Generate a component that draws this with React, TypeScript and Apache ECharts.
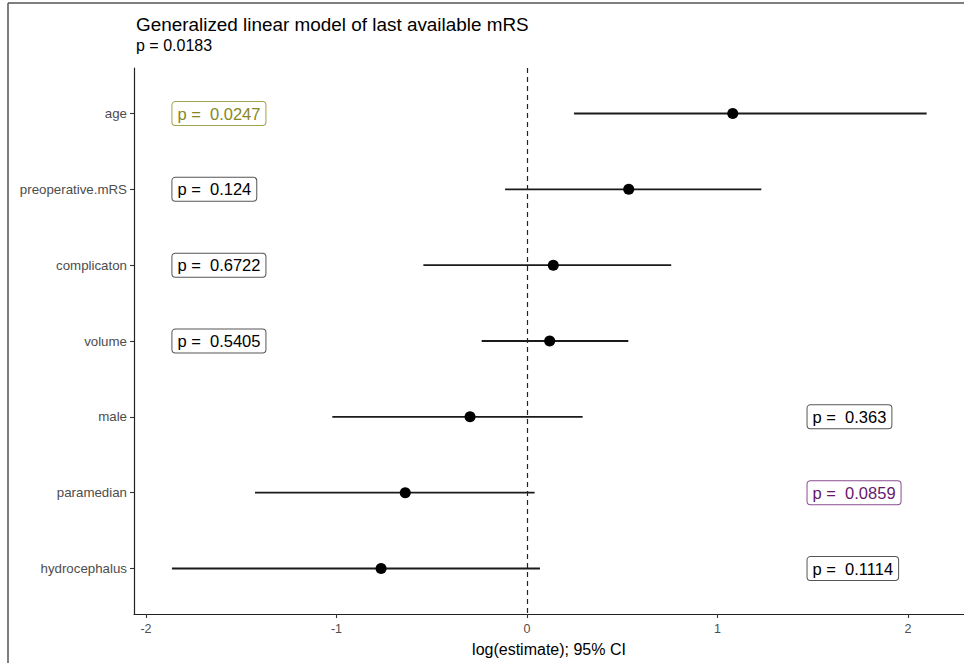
import React, { useEffect, useRef } from "react";
import * as echarts from "echarts";

const categories = ["age", "preoperative.mRS", "complicaton", "volume", "male", "paramedian", "hydrocephalus"];
const estimates = [1.08, 0.534, 0.138, 0.119, -0.299, -0.639, -0.766];
const ciLow = [0.247, -0.115, -0.544, -0.238, -1.022, -1.428, -1.864];
const ciHigh = [2.098, 1.23, 0.757, 0.532, 0.292, 0.04, 0.068];
const pValues = ["0.0247", "0.124", "0.6722", "0.5405", "0.363", "0.0859", "0.1114"];
const labelX = [-1.864, -1.864, -1.864, -1.864, 1.47, 1.47, 1.47];
const labelColors = ["#87871f", "#000000", "#000000", "#000000", "#000000", "#66196e", "#000000"];
const labelBorders = ["#a3a34a", "#555555", "#555555", "#555555", "#555555", "#8a4d90", "#555555"];
const xTicks = [-2, -1, 0, 1, 2];
const titleText = "Generalized linear model of last available mRS";
const subtitleText = "p = 0.0183";
const xAxisTitle = "log(estimate); 95% CI";

const FONT = "'Liberation Sans', Arial, sans-serif";

export default function App() {
  const ref = useRef<HTMLDivElement>(null);
  useEffect(() => {
    if (!ref.current) return;
    const chart = echarts.init(ref.current, null, { renderer: "svg" });
    const idx = categories.map((_, i) => i);
    const option: any = {
      animation: false,
      backgroundColor: "#ffffff",
      textStyle: { fontFamily: FONT },
      grid: { left: 134, right: 0, top: 68, bottom: 49, containLabel: false },
      xAxis: {
        type: "value",
        min: -2.063,
        max: 2.294,
        name: xAxisTitle,
        nameLocation: "middle",
        nameGap: 27,
        nameTextStyle: { fontSize: 16, color: "#000", fontFamily: FONT },
        axisLine: { show: true, onZero: false, lineStyle: { color: "#222", width: 1.2 } },
        axisTick: { show: true, length: 4, customValues: xTicks, lineStyle: { color: "#333", width: 1.1 } },
        axisLabel: { customValues: xTicks, fontSize: 12.5, color: "#4d4d4d", margin: 8, fontFamily: FONT },
        splitLine: { show: false },
      },
      yAxis: {
        type: "value",
        min: -0.6,
        max: 6.6,
        inverse: true,
        axisLine: { show: true, onZero: false, lineStyle: { color: "#222", width: 1.2 } },
        axisTick: { show: true, length: 4, customValues: idx, lineStyle: { color: "#333", width: 1.1 } },
        axisLabel: {
          customValues: idx,
          fontSize: 13.3,
          color: "#4d4d4d",
          margin: 7,
          fontFamily: FONT,
          formatter: (v: number) => categories[Math.round(v)] ?? "",
        },
        splitLine: { show: false },
      },
      series: [
        {
          type: "custom",
          name: "ci",
          data: idx.map((i) => [ciLow[i], ciHigh[i], i]),
          encode: { x: [0, 1], y: 2 },
          renderItem: (params: any, api: any) => {
            const p1 = api.coord([api.value(0), api.value(2)]);
            const p2 = api.coord([api.value(1), api.value(2)]);
            return {
              type: "line",
              shape: { x1: p1[0], y1: p1[1], x2: p2[0], y2: p2[1] },
              style: { stroke: "#1a1a1a", lineWidth: 1.8 },
            };
          },
          markLine: {
            silent: true,
            symbol: ["none", "none"],
            label: { show: false },
            lineStyle: { color: "#222", type: [5, 4], width: 1.2 },
            data: [{ xAxis: 0 }],
          },
          z: 2,
        },
        {
          type: "scatter",
          name: "estimate",
          data: idx.map((i) => [estimates[i], i]),
          symbolSize: 11,
          itemStyle: { color: "#000", opacity: 1 },
          z: 3,
        },
        {
          type: "scatter",
          name: "pLabels",
          symbolSize: 1,
          itemStyle: { color: "rgba(255,255,255,0)", opacity: 1 },
          data: idx.map((i) => ({
            value: [labelX[i], i],
            label: {
              show: true,
              position: "right",
              distance: 0,
              formatter: "p =  " + pValues[i],
              color: labelColors[i],
              borderColor: labelBorders[i],
              fontSize: 16.5,
              fontFamily: FONT,
              padding: [4, 5, 2, 5],
              borderWidth: 1,
              borderRadius: 3,
              backgroundColor: "#ffffff",
              opacity: 1,
            },
          })),
          z: 4,
        },
      ],
      graphic: [
        { type: "line", shape: { x1: 8, y1: 3, x2: 964, y2: 3 }, style: { stroke: "#555", lineWidth: 1.5 } },
        { type: "line", shape: { x1: 8, y1: 3, x2: 8, y2: 663 }, style: { stroke: "#555", lineWidth: 1.5 } },
        {
          type: "text",
          x: 136,
          y: 24,
          style: { text: titleText, fontSize: 18.9, fill: "#000", fontFamily: FONT, verticalAlign: "middle", align: "left" },
        },
        {
          type: "text",
          x: 136,
          y: 45,
          style: { text: subtitleText, fontSize: 16, fill: "#000", fontFamily: FONT, verticalAlign: "middle", align: "left" },
        },
      ],
    };
    chart.setOption(option);
    return () => chart.dispose();
  }, []);
  return (
    <div
      ref={ref}
      style={{ position: "fixed", left: 0, top: 0, width: 964, height: 663, background: "#fff" }}
    />
  );
}
